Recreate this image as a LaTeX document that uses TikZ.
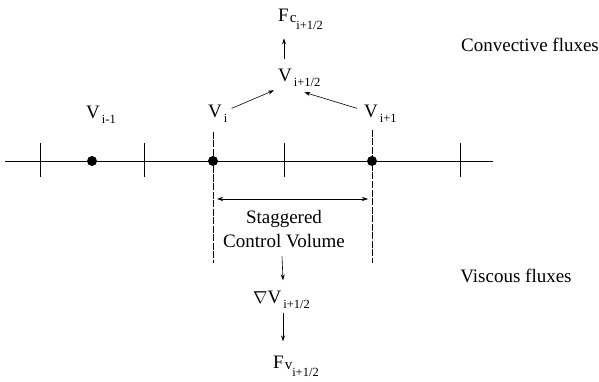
\documentclass[tikz,border=0pt]{standalone}
\usepackage{fontspec}
\setmainfont{Liberation Serif}
\usetikzlibrary{arrows.meta,calc}

% label with a lowered index
\newcommand{\vsub}[2]{#1\hspace{2pt}\raisebox{-5pt}{\fontsize{12.5}{12.5}\selectfont #2}}
% flux with a double index
\newcommand{\fsub}[3]{#1\hspace{1pt}\raisebox{-1pt}{\fontsize{15}{15}\selectfont #2}\raisebox{-8pt}{\fontsize{12.5}{12.5}\selectfont #3}}

\begin{document}
\begin{tikzpicture}[x=1pt,y=-1pt,
    lbl/.style={font=\fontsize{19}{20}\selectfont, inner sep=1pt, anchor=base west},
    note/.style={font=\fontsize{19}{24}\selectfont, align=center},
    dot/.style={circle, fill, inner sep=0pt, minimum size=10pt},
    arr/.style={-{Stealth[length=6pt,width=4pt]}, semithick},
    darr/.style={{Stealth[length=6pt,width=4pt]}-{Stealth[length=6pt,width=4pt]}, semithick},
    bound/.style={dash pattern=on 7pt off 1.5pt, thin},
    gridline/.style={semithick}]
    \useasboundingbox (0,0) rectangle (599,382);

    % Gitter
    \coordinate (lstart) at (5,161);
    \coordinate (lend) at (493,161);
    \draw[gridline] (lstart) -- (lend);
    \foreach \x in {40,144,284,460}
        \draw[gridline] (\x,143) -- (\x,177);

    % Knoten
    \node[dot] (dim) at (92,161) {};
    \node[dot] (di) at (213,161) {};
    \node[dot] (dip) at (372,161) {};

    \node[lbl] (vim) at (85,119) {\vsub{V}{i-1}};
    \node[lbl] (vi) at (207,118) {\vsub{V}{i}};
    \node[lbl] (vip) at (363,118) {\vsub{V}{i+1}};
    \node[lbl] (vh) at (277,82) {\vsub{V}{i+1/2}};
    \node[lbl] (fc) at (277,22) {\fsub{F}{c}{i+1/2}};

    % versetztes Kontrollvolumen
    \coordinate (cvl) at (213,263);
    \coordinate (cvr) at (372,263);
    \coordinate (al) at (217,199);
    \coordinate (ar) at (368,199);
    \draw[bound] ($(di)+(0,-29)$) -- (cvl);
    \draw[bound] ($(dip)+(0,-31)$) -- (cvr);
    \draw[darr] (al) -- (ar);
    \node[note] (cv) at (284,229) {Staggered\\Control Volume};

    \node[lbl] (grad) at (252,303) {$\nabla$\vsub{V}{i+1/2}};
    \node[lbl] (fv) at (272,368) {\fsub{F}{v}{i+1/2}};

    % Pfeile
    \draw[arr] ($(vi.north east)+(3,4)$) -- ($(vh.south west)+(-3,2)$);
    \draw[arr] ($(vip.north west)+(-6,4)$) -- ($(vh.south)+(5,4)$);
    \draw[arr] ($(vh.north west)+(7,-9)$) -- ($(fc.south west)+(7,7)$);
    \draw[arr] ($(cv.south)+(-2,5)$) -- ($(grad.north west)+(31,-9)$);
    \draw[arr] ($(grad.south west)+(31,4)$) -- ($(fv.north west)+(11,-13)$);

    \node[note] (conv) at (530,45) {Convective fluxes};
    \node[note] (visc) at (516,276) {Viscous fluxes};
\end{tikzpicture}
\end{document}
